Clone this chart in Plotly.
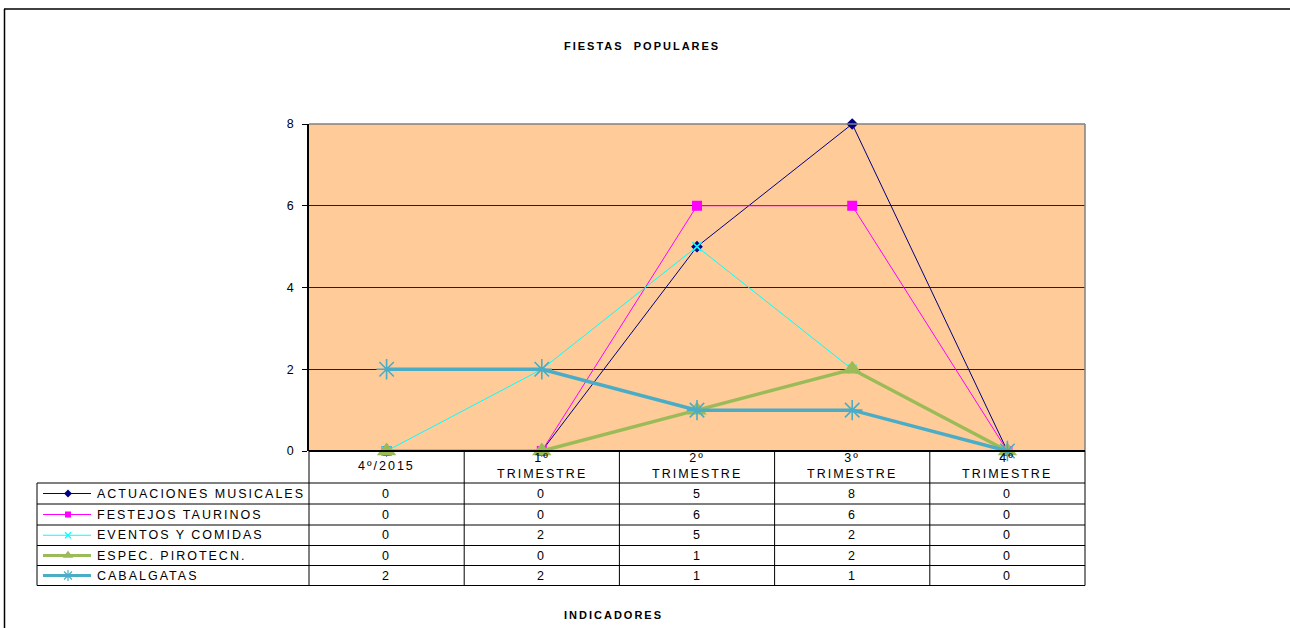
import plotly.graph_objects as go

# ---------------- data ----------------
categories = ["4º/2015", "1º<br>TRIMESTRE", "2º<br>TRIMESTRE", "3º<br>TRIMESTRE", "4º<br>TRIMESTRE"]
series_names = ["ACTUACIONES MUSICALES", "FESTEJOS TAURINOS", "EVENTOS Y COMIDAS",
                "ESPEC. PIROTECN.", "CABALGATAS"]
actuaciones = [0, 0, 5, 8, 0]
festejos = [0, 0, 6, 6, 0]
eventos = [0, 2, 5, 2, 0]
pirotecn = [0, 0, 1, 2, 0]
cabalgatas = [2, 2, 1, 1, 0]
y_ticks = [0, 2, 4, 6, 8]

series_values = [actuaciones, festejos, eventos, pirotecn, cabalgatas]

# ---------------- styles ----------------
colors = ["#000080", "#FF00FF", "#00FFFF", "#9BBB59", "#4BACC6"]
widths = [1, 1, 1, 3.5, 3.5]
symbols = ["diamond", "square", "x-thin-open", "triangle-up", "asterisk-open"]
msizes = [9, 10, 9, 17, 17]

W, H = 1290, 628
PL, PR, PT, PB = 309, 1085, 124, 451


def fx(x):
    return x / W


def fy(y):
    return 1 - y / H


FONT = "Liberation Sans, Arial, sans-serif"
xs = list(range(len(categories)))

fig = go.Figure()

for name, vals, c, w, s, ms in zip(series_names, series_values, colors, widths, symbols, msizes):
    mk = dict(symbol=s, size=ms, color=c)
    if s.endswith("open"):
        mk["line"] = dict(color=c, width=1.6)
    fig.add_trace(go.Scatter(
        x=xs, y=vals, mode="lines+markers", name=name,
        line=dict(color=c, width=w), marker=mk, cliponaxis=False,
        showlegend=False, xaxis="x", yaxis="y"))

# ---------------- table geometry ----------------
row_lines = [451, 483, 504, 525, 545.5, 565.5, 585.5]
col_w = (PR - PL) / len(categories)
col_lines = [PL + i * col_w for i in range(len(categories) + 1)]
LEG_L = 37

shapes = []
line_k = dict(color="black", width=1)
# orange plot area
shapes.append(dict(type="rect", xref="paper", yref="paper", x0=fx(PL), x1=fx(PR), y0=fy(PB), y1=fy(PT),
                   fillcolor="#FFCC99", line=dict(width=0), layer="below"))
# outer frame
shapes.append(dict(type="line", xref="paper", yref="paper", x0=fx(4), x1=fx(1295), y0=fy(9), y1=fy(9),
                   line=dict(color="black", width=1.5)))
shapes.append(dict(type="line", xref="paper", yref="paper", x0=fx(4.5), x1=fx(4.5), y0=fy(9), y1=fy(640),
                   line=dict(color="black", width=1.5)))
# plot border top/right
shapes.append(dict(type="line", xref="paper", yref="paper", x0=fx(PL), x1=fx(PR), y0=fy(PT), y1=fy(PT),
                   line=dict(color="#808080", width=1.5)))
shapes.append(dict(type="line", xref="paper", yref="paper", x0=fx(PR), x1=fx(PR), y0=fy(PT), y1=fy(PB),
                   line=dict(color="#808080", width=1.5)))
# table horizontal lines
for i, ry in enumerate(row_lines):
    x0 = PL if i == 0 else LEG_L
    wd = 2 if i == 0 else 1
    shapes.append(dict(type="line", xref="paper", yref="paper", x0=fx(x0), x1=fx(PR), y0=fy(ry), y1=fy(ry),
                       line=dict(color="black", width=wd)))
# table vertical lines
for cx in col_lines:
    shapes.append(dict(type="line", xref="paper", yref="paper", x0=fx(cx), x1=fx(cx),
                       y0=fy(PB), y1=fy(row_lines[-1]), line=line_k))
shapes.append(dict(type="line", xref="paper", yref="paper", x0=fx(LEG_L), x1=fx(LEG_L),
                   y0=fy(row_lines[1]), y1=fy(row_lines[-1]), line=line_k))


def ann(text, x, y, xanchor="center", size=12.5):
    return dict(text=text, x=fx(x), y=fy(y), xref="paper", yref="paper", showarrow=False,
                xanchor=xanchor, yanchor="middle", align="left" if xanchor == "left" else "center",
                font=dict(family=FONT, size=size, color="black"))


annotations = []
annotations.append(ann("<b>FIESTAS  POPULARES</b>", 642, 46, size=11))
annotations.append(ann("<b>INDICADORES</b>", 613, 615, size=11))
for i, cat in enumerate(categories):
    cx = PL + (i + 0.5) * col_w
    annotations.append(ann(cat, cx, 466))
for r, (name, vals) in enumerate(zip(series_names, series_values)):
    cy = (row_lines[r + 1] + row_lines[r + 2]) / 2
    annotations.append(ann(name, 95, cy, xanchor="left"))
    for i, v in enumerate(vals):
        cx = PL + (i + 0.5) * col_w
        annotations.append(ann(str(v), cx, cy))

# legend samples on a pixel-coordinate overlay axis
for r, (name, c, w, s, ms) in enumerate(zip(series_names, colors, widths, symbols, msizes)):
    cy = (row_lines[r + 1] + row_lines[r + 2]) / 2
    lw = 1 if w < 2 else 3
    fig.add_trace(go.Scatter(x=[43, 69, 91], y=[cy, cy, cy], mode="lines", line=dict(color=c, width=lw),
                             showlegend=False, hoverinfo="skip", xaxis="x2", yaxis="y2"))
    mk = dict(symbol=s, size=max(6, ms * 0.55), color=c)
    if s.endswith("open"):
        mk["line"] = dict(color=c, width=1.2)
    fig.add_trace(go.Scatter(x=[68], y=[cy], mode="markers", marker=mk,
                             showlegend=False, hoverinfo="skip", xaxis="x2", yaxis="y2"))

fig.update_layout(
    width=W, height=H,
    margin=dict(l=0, r=0, t=0, b=0, autoexpand=False),
    paper_bgcolor="white",
    plot_bgcolor="rgba(0,0,0,0)",
    showlegend=False,
    font=dict(family=FONT, size=11, color="black"),
    xaxis=dict(domain=[fx(PL), fx(PR)], range=[-0.5, len(categories) - 0.5], showticklabels=False,
               showgrid=False, zeroline=False, showline=False, ticks=""),
    yaxis=dict(domain=[fy(PB), fy(PT)], range=[0, 8], tickvals=y_ticks, ticks="outside", ticklen=5,
               tickcolor="black", showgrid=True, gridcolor="#222222", gridwidth=1, zeroline=False,
               showline=True, linecolor="black", linewidth=1.5, ticklabelstandoff=6,
               tickfont=dict(family=FONT, size=12.5, color="black")),
    xaxis2=dict(domain=[0, 1], range=[0, W], visible=False, fixedrange=True, anchor="y2"),
    yaxis2=dict(domain=[0, 1], range=[H, 0], visible=False, fixedrange=True, anchor="x2"),
    shapes=shapes,
    annotations=annotations,
)

post = """
document.body.style.margin='0';
document.body.style.overflow='hidden';
var gd = document.getElementById('{plot_id}');
gd.querySelectorAll('.annotation-text').forEach(function(t){
  t.style.letterSpacing = '2px';
});
"""

fig.write_html("out.html", config={"displayModeBar": False}, post_script=post)
